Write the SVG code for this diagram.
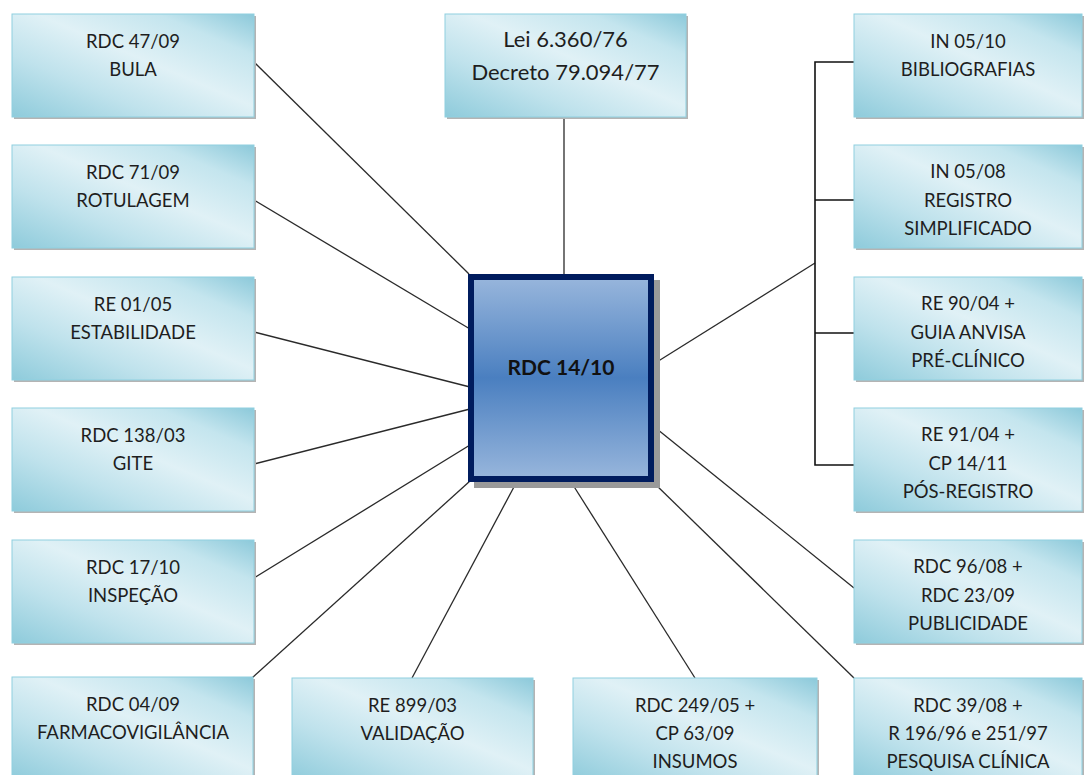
<svg xmlns="http://www.w3.org/2000/svg" width="1085" height="775" viewBox="0 0 1085 775">
<style>
.box{fill:url(#bg);stroke:#8fd0e0;stroke-width:1}
.sh{fill:#b4b4b4}
.t{font-family:Lato,"Liberation Sans",sans-serif;font-size:18.5px;fill:#1e1e1e;text-anchor:middle}
.tt{font-family:Lato,"Liberation Sans",sans-serif;font-size:22px;fill:#1e1e1e;text-anchor:middle}
.c{font-family:Lato,"Liberation Sans",sans-serif;font-size:21px;font-weight:bold;fill:#111;text-anchor:middle}
.ln{stroke:#2a2a2a;stroke-width:1.3;fill:none}
.br{stroke:#111;stroke-width:1.6;fill:none}
</style>
<defs>
<linearGradient id="bg" x1="0" y1="1" x2="1" y2="0">
<stop offset="0" stop-color="#8ecbdb"/>
<stop offset="0.3" stop-color="#bfe2ec"/>
<stop offset="0.55" stop-color="#e0f1f6"/>
<stop offset="0.8" stop-color="#c4e5ee"/>
<stop offset="1" stop-color="#8cc9da"/>
</linearGradient>
<linearGradient id="cg" x1="0" y1="0" x2="0" y2="1">
<stop offset="0" stop-color="#98b6dc"/>
<stop offset="0.5" stop-color="#4a7fc0"/>
<stop offset="1" stop-color="#98b6dc"/>
</linearGradient>
</defs>
<rect width="1085" height="775" fill="#fff"/>
<g id="connectors">
<line class="ln" x1="254" y1="62" x2="469" y2="274"/>
<line class="ln" x1="254" y1="200" x2="470" y2="329"/>
<line class="ln" x1="254" y1="332" x2="470" y2="387"/>
<line class="ln" x1="254" y1="464" x2="470" y2="409"/>
<line class="ln" x1="254" y1="578" x2="470" y2="445"/>
<line class="ln" x1="252" y1="678" x2="470" y2="481"/>
<line class="ln" x1="412" y1="678" x2="515" y2="485"/>
<line class="ln" x1="573" y1="485" x2="695" y2="678"/>
<line class="ln" x1="653" y1="482" x2="854" y2="678"/>
<line class="ln" x1="652" y1="425" x2="854" y2="588"/>
<line class="ln" x1="564" y1="117" x2="564" y2="274"/>
<line class="ln" x1="652" y1="365" x2="815" y2="263"/>
<polyline class="br" points="854,62 815,62 815,465 854,465"/>
<line class="br" x1="815" y1="200" x2="854" y2="200"/>
<line class="br" x1="815" y1="333" x2="854" y2="333"/>
</g>
<g id="n_center">
<rect x="474" y="280" width="186" height="208" fill="#9a9a9a"/>
<rect x="471" y="277" width="180" height="202" fill="url(#cg)" stroke="#001c5e" stroke-width="6"/>
<text class="c" x="561" y="375">RDC 14/10</text>
</g>
<g id="n_lei">
<rect class="sh" x="447" y="16" width="241" height="103"/>
<rect class="box" x="445" y="14" width="241" height="103"/>
<text class="tt" x="565.5" y="47">Lei 6.360/76</text>
<text class="tt" x="565.5" y="80">Decreto 79.094/77</text>
</g>
<g id="n_bula">
<rect class="sh" x="14" y="16" width="242" height="103"/>
<rect class="box" x="12" y="14" width="242" height="103"/>
<text class="t" x="133" y="48">RDC 47/09</text>
<text class="t" x="133" y="76">BULA</text>
</g>
<g id="n_rotulagem">
<rect class="sh" x="14" y="147" width="242" height="103"/>
<rect class="box" x="12" y="145" width="242" height="103"/>
<text class="t" x="133" y="179">RDC 71/09</text>
<text class="t" x="133" y="207">ROTULAGEM</text>
</g>
<g id="n_estabilidade">
<rect class="sh" x="14" y="279" width="242" height="103"/>
<rect class="box" x="12" y="277" width="242" height="103"/>
<text class="t" x="133" y="311">RE 01/05</text>
<text class="t" x="133" y="339">ESTABILIDADE</text>
</g>
<g id="n_gite">
<rect class="sh" x="14" y="410" width="242" height="103"/>
<rect class="box" x="12" y="408" width="242" height="103"/>
<text class="t" x="133" y="442">RDC 138/03</text>
<text class="t" x="133" y="470">GITE</text>
</g>
<g id="n_inspecao">
<rect class="sh" x="14" y="542" width="242" height="103"/>
<rect class="box" x="12" y="540" width="242" height="103"/>
<text class="t" x="133" y="574">RDC 17/10</text>
<text class="t" x="133" y="602">INSPEÇÃO</text>
</g>
<g id="n_farmaco">
<rect class="sh" x="14" y="679" width="241" height="103"/>
<rect class="box" x="12" y="677" width="241" height="103"/>
<text class="t" x="133" y="711">RDC 04/09</text>
<text class="t" x="133" y="739">FARMACOVIGILÂNCIA</text>
</g>
<g id="n_validacao">
<rect class="sh" x="294" y="680" width="241" height="103"/>
<rect class="box" x="292" y="678" width="241" height="103"/>
<text class="t" x="412.5" y="712">RE 899/03</text>
<text class="t" x="412.5" y="740">VALIDAÇÃO</text>
</g>
<g id="n_insumos">
<rect class="sh" x="575" y="680" width="244" height="103"/>
<rect class="box" x="573" y="678" width="244" height="103"/>
<text class="t" x="695" y="712">RDC 249/05 +</text>
<text class="t" x="695" y="740">CP 63/09</text>
<text class="t" x="695" y="768">INSUMOS</text>
</g>
<g id="n_pesquisa">
<rect class="sh" x="856" y="680" width="228" height="103"/>
<rect class="box" x="854" y="678" width="228" height="103"/>
<text class="t" x="968" y="712">RDC 39/08 +</text>
<text class="t" x="968" y="740">R 196/96 e 251/97</text>
<text class="t" x="968" y="768">PESQUISA CLÍNICA</text>
</g>
<g id="n_bibliografias">
<rect class="sh" x="856" y="16" width="228" height="103"/>
<rect class="box" x="854" y="14" width="228" height="103"/>
<text class="t" x="968" y="48">IN 05/10</text>
<text class="t" x="968" y="76">BIBLIOGRAFIAS</text>
</g>
<g id="n_registro">
<rect class="sh" x="856" y="147" width="228" height="103"/>
<rect class="box" x="854" y="145" width="228" height="103"/>
<text class="t" x="968" y="178">IN 05/08</text>
<text class="t" x="968" y="207">REGISTRO</text>
<text class="t" x="968" y="235">SIMPLIFICADO</text>
</g>
<g id="n_preclinico">
<rect class="sh" x="856" y="279" width="228" height="103"/>
<rect class="box" x="854" y="277" width="228" height="103"/>
<text class="t" x="968" y="310">RE 90/04 +</text>
<text class="t" x="968" y="339">GUIA ANVISA</text>
<text class="t" x="968" y="367">PRÉ-CLÍNICO</text>
</g>
<g id="n_posregistro">
<rect class="sh" x="856" y="410" width="228" height="103"/>
<rect class="box" x="854" y="408" width="228" height="103"/>
<text class="t" x="968" y="441">RE 91/04 +</text>
<text class="t" x="968" y="470">CP 14/11</text>
<text class="t" x="968" y="498">PÓS-REGISTRO</text>
</g>
<g id="n_publicidade">
<rect class="sh" x="856" y="542" width="228" height="103"/>
<rect class="box" x="854" y="540" width="228" height="103"/>
<text class="t" x="968" y="573">RDC 96/08 +</text>
<text class="t" x="968" y="602">RDC 23/09</text>
<text class="t" x="968" y="630">PUBLICIDADE</text>
</g>
</svg>
